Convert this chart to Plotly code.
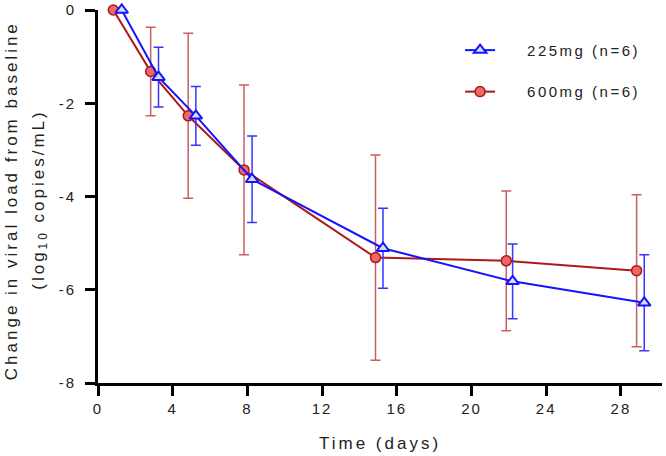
import plotly.graph_objects as go

# ---- data ----
days_225 = [1.27, 3.24, 5.24, 8.25, 15.26, 22.2, 29.25]
mean_225 = [0.0, -1.44, -2.27, -3.63, -5.11, -5.82, -6.28]
sd_225 = [0.0, 0.64, 0.63, 0.93, 0.86, 0.80, 1.03]

days_600 = [0.82, 2.82, 4.83, 7.82, 14.86, 21.86, 28.84]
mean_600 = [0.0, -1.32, -2.27, -3.43, -5.31, -5.38, -5.59]
sd_600 = [0.0, 0.95, 1.77, 1.82, 2.20, 1.50, 1.63]

x_ticks = [0, 4, 8, 12, 16, 20, 24, 28]
y_ticks = [0, -2, -4, -6, -8]

y_title_1 = "Change in viral load from baseline"
y_title_2 = "(log<sub>10</sub> copies/mL)"
x_title = "Time (days)"

FONT = "Liberation Sans, Arial, sans-serif"

fig = go.Figure()

fig.add_trace(go.Scatter(
    x=days_600, y=mean_600, name="600mg (n=6)", mode="lines+markers",
    legendgroup="b", legendrank=2,
    line=dict(color="#b01818", width=2),
    marker=dict(symbol="circle", size=10, color="#e86a6a",
                line=dict(color="#b01818", width=1.5)),
    error_y=dict(type="data", array=sd_600, visible=True,
                 color="#c86060", thickness=1.5, width=5),
    cliponaxis=False,
))
fig.add_trace(go.Scatter(
    x=days_225, y=mean_225, name="225mg (n=6)", mode="lines+markers",
    legendgroup="a", legendrank=1,
    line=dict(color="#1414ff", width=2),
    marker=dict(symbol="triangle-up", size=11, color="#d8ddff",
                line=dict(color="#1414ff", width=2)),
    error_y=dict(type="data", array=sd_225, visible=True,
                 color="#3535ff", thickness=1.5, width=5),
    cliponaxis=False,
))

fig.update_layout(
    width=666, height=456,
    margin=dict(l=98, r=4, t=10, b=73),
    paper_bgcolor="white", plot_bgcolor="white",
    font=dict(family=FONT, size=15, color="#222222"),
    showlegend=True,
    legend=dict(x=0.642, y=0.936, xanchor="left", yanchor="top",
                traceorder="grouped", tracegroupgap=19,
                font=dict(size=15, color="#222222"),
                bgcolor="rgba(0,0,0,0)"),
    xaxis=dict(
        range=[0, 30.2], tickvals=x_ticks, ticktext=[str(v) for v in x_ticks],
        showgrid=False, zeroline=False, showline=True, linecolor="black",
        linewidth=3, ticks="outside", ticklen=10, tickwidth=3, tickcolor="black",
        tickfont=dict(size=15), automargin=False,
        title=dict(text=x_title, font=dict(size=17), standoff=22),
    ),
    yaxis=dict(
        range=[-8, 0], tickvals=y_ticks, ticktext=[str(v) for v in y_ticks],
        showgrid=False, zeroline=False, showline=True, linecolor="black",
        linewidth=3, ticks="outside", ticklen=10, tickwidth=3, tickcolor="black",
        tickfont=dict(size=15), automargin=False, ticklabelstandoff=6,
    ),
    annotations=[
        dict(text=y_title_1, textangle=-90, xref="paper", yref="paper",
             x=-0.1543, y=0.49, xanchor="center", yanchor="middle",
             showarrow=False, font=dict(size=17, color="#222222")),
        dict(text=y_title_2, textangle=-90, xref="paper", yref="paper",
             x=-0.1028, y=0.49, xanchor="center", yanchor="middle",
             showarrow=False, font=dict(size=17, color="#222222")),
    ],
)

css_js = """
document.body.style.margin = '0';
var s = document.createElement('style');
s.innerHTML = 'body {margin: 0;} ' +
  '.xtick text, .ytick text {letter-spacing: 2px;} ' +
  '.xtitle, .annotation-text {letter-spacing: 3px;} ' +
  '.legend .scrollbox {clip-path: none !important;} ' +
  '.legendtext {letter-spacing: 2.5px; transform: translateX(27px);}';
document.head.appendChild(s);
"""
fig.write_html("out.html", post_script=css_js, config={"displayModeBar": False})
